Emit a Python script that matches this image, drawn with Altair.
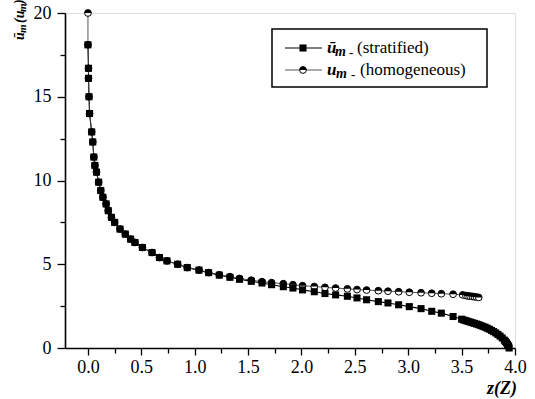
import altair as alt
import pandas as pd

# ---- data ----
z_early = [0.0, 0.005, 0.005, 0.01, 0.015, 0.035, 0.045, 0.055, 0.065, 0.08,
           0.10, 0.12, 0.14, 0.17, 0.19, 0.22, 0.25, 0.30, 0.35, 0.40, 0.44,
           0.51, 0.60, 0.67, 0.74, 0.84, 0.93, 1.04, 1.13]
u_early = [18.1, 16.7, 16.1, 15.0, 14.0, 12.9, 12.3, 11.4, 10.9, 10.5,
           9.9, 9.4, 9.0, 8.6, 8.2, 7.8, 7.5, 7.1, 6.8, 6.5, 6.3,
           6.0, 5.7, 5.4, 5.2, 5.0, 4.8, 4.65, 4.5]

z_strat_mid = [1.23, 1.33, 1.42, 1.53, 1.63, 1.72, 1.83, 1.92, 2.01, 2.12,
               2.22, 2.32, 2.43, 2.52, 2.61, 2.72, 2.81, 2.91, 3.01, 3.12,
               3.22, 3.31, 3.42]
u_strat_mid = [4.35, 4.22, 4.10, 3.98, 3.88, 3.78, 3.66, 3.58, 3.47, 3.36,
               3.25, 3.17, 3.09, 2.99, 2.88, 2.77, 2.69, 2.58, 2.47, 2.35,
               2.19, 2.08, 1.88]
z_strat_end = [3.50, 3.52, 3.54, 3.56, 3.58, 3.60, 3.62, 3.64, 3.66, 3.68,
               3.70, 3.72, 3.74, 3.76, 3.78, 3.80, 3.82, 3.84, 3.86, 3.88,
               3.90, 3.91, 3.92, 3.93, 3.94, 3.945]
u_strat_end = [1.72, 1.67, 1.63, 1.59, 1.55, 1.51, 1.47, 1.43, 1.39, 1.34,
               1.29, 1.24, 1.18, 1.12, 1.05, 0.98, 0.90, 0.81, 0.71, 0.60,
               0.47, 0.39, 0.31, 0.22, 0.12, 0.0]

z_homog_top = [0.0]
u_homog_top = [20.0]
z_homog_mid = [1.23, 1.33, 1.42, 1.53, 1.63, 1.72, 1.83, 1.92, 2.01, 2.12,
               2.22, 2.32, 2.43, 2.52, 2.61, 2.72, 2.81, 2.91, 3.01, 3.12,
               3.22, 3.31, 3.42, 3.51]
u_homog_mid = [4.37, 4.26, 4.15, 4.05, 3.96, 3.90, 3.84, 3.78, 3.72, 3.67,
               3.62, 3.58, 3.53, 3.49, 3.46, 3.42, 3.39, 3.36, 3.33, 3.30,
               3.27, 3.24, 3.21, 3.17]
z_homog_end = [3.54, 3.56, 3.58, 3.60, 3.62, 3.64, 3.66]
u_homog_end = [3.13, 3.11, 3.09, 3.08, 3.06, 3.04, 3.02]

x_ticks = [0.0, 0.25, 0.5, 0.75, 1.0, 1.25, 1.5, 1.75, 2.0, 2.25, 2.5, 2.75,
           3.0, 3.25, 3.5, 3.75, 4.0]
y_ticks = [0, 2.5, 5, 7.5, 10, 12.5, 15, 17.5, 20]

strat = pd.DataFrame({
    "z": z_early + z_strat_mid + z_strat_end,
    "u": u_early + u_strat_mid + u_strat_end,
})
strat["i"] = range(len(strat))
homog = pd.DataFrame({
    "z": z_homog_top + z_early + z_homog_mid + z_homog_end,
    "u": u_homog_top + u_early + u_homog_mid + u_homog_end,
})
homog["i"] = range(len(homog))

SERIF = "Liberation Serif"

xs = alt.X("z:Q", scale=alt.Scale(domain=[-0.215, 4.0], nice=False, zero=False),
           axis=alt.Axis(values=x_ticks, title=None, grid=False,
                         labelExpr="datum.value % 0.5 === 0 ? format(datum.value, '.1f') : ''",
                         tickSize={"condition": {"test": "datum.value % 0.5 === 0", "value": 7}, "value": 5},
                         labelFont=SERIF, labelFontSize=18, labelColor="black",
                         labelPadding=3, domainColor="black", domainWidth=1.6,
                         tickColor="black", tickWidth=1.3, labelFlush=False))
ys = alt.Y("u:Q", scale=alt.Scale(domain=[0, 20], nice=False),
           axis=alt.Axis(values=y_ticks, title=None, grid=False,
                         labelExpr="datum.value % 5 === 0 ? format(datum.value, 'd') : ''",
                         tickSize={"condition": {"test": "datum.value % 5 === 0", "value": 8}, "value": 5},
                         labelFont=SERIF, labelFontSize=18, labelColor="black",
                         labelPadding=6, domainColor="black", domainWidth=1.6,
                         tickColor="black", tickWidth=1.3))

HALF = "M -1 0 A 1 1 0 0 1 1 0 Z"
SQ = 50
CI = 46

strat_line = alt.Chart(strat).mark_line(color="black", strokeWidth=1.1).encode(x=xs, y=ys, order="i:Q")
strat_pts = alt.Chart(strat).mark_point(shape="square", filled=True, color="black", size=SQ, opacity=1).encode(x=xs, y=ys)
homog_line = alt.Chart(homog).mark_line(color="#444444", strokeWidth=0.9).encode(x=xs, y=ys, order="i:Q")
homog_pts = alt.Chart(homog).mark_point(shape="circle", filled=True, fill="white", stroke="black",
                                        strokeWidth=1, size=CI, opacity=1).encode(x=xs, y=ys)
homog_half = alt.Chart(homog).mark_point(shape=HALF, filled=True, color="black", size=CI, opacity=1).encode(x=xs, y=ys)

one = pd.DataFrame({"a": [0]})

def txt(s, x, y, size, weight=None, style=None, angle=0, align="left"):
    kw = dict(text=s, font=SERIF, fontSize=size, align=align, color="black")
    if weight:
        kw["fontWeight"] = weight
    if style:
        kw["fontStyle"] = style
    if angle:
        kw["angle"] = angle
    return alt.Chart(one).mark_text(**kw).encode(x=alt.value(x), y=alt.value(y))

# legend
box = alt.Chart(one).mark_rect(fill="white", stroke="black", strokeWidth=1.5).encode(
    x=alt.value(207), x2=alt.value(422), y=alt.value(16), y2=alt.value(74))
leg_l1 = alt.Chart(one).mark_rule(color="black", strokeWidth=1.1).encode(
    x=alt.value(220), x2=alt.value(257), y=alt.value(35))
leg_l2 = alt.Chart(one).mark_rule(color="#444444", strokeWidth=0.9).encode(
    x=alt.value(220), x2=alt.value(257), y=alt.value(57))
leg_p1 = alt.Chart(one).mark_point(shape="square", filled=True, color="black", size=SQ, opacity=1).encode(
    x=alt.value(238), y=alt.value(35))
leg_p2a = alt.Chart(one).mark_point(shape="circle", filled=True, fill="white", stroke="black",
                                    strokeWidth=1, size=CI, opacity=1).encode(x=alt.value(238), y=alt.value(57))
leg_p2b = alt.Chart(one).mark_point(shape=HALF, filled=True, color="black", size=CI, opacity=1).encode(
    x=alt.value(238), y=alt.value(57))

legend_texts = [
    txt("ū", 262, 35, 17, "bold", "italic"),
    txt("m", 270, 39, 14, "bold", "italic"),
    txt("-", 284, 40, 13, "bold"),
    txt("(stratified)", 292, 35, 17),
    txt("u", 262, 57, 17, "bold", "italic"),
    txt("m", 271, 61, 14, "bold", "italic"),
    txt("-", 286, 62, 13, "bold"),
    txt("(homogeneous)", 295, 57, 17),
]

ytitle = [
    txt("ū", -45, 27, 14, "bold", "italic", angle=270),
    txt("m", -42, 20, 11, "bold", "italic", angle=270),
    txt("(u", -45, 10, 14, "bold", "italic", angle=270),
    txt("m", -42, -1, 11, "bold", "italic", angle=270),
    txt(")", -45, -9, 14, "bold", "italic", angle=270),
]
xtitle = txt("z(Z)", 437, 376, 18, "bold", "italic", align="center")

chart = alt.layer(
    strat_line, homog_line, homog_pts, homog_half, strat_pts,
    box, leg_l1, leg_l2, leg_p1, leg_p2a, leg_p2b,
    *legend_texts, *ytitle, xtitle
).properties(
    width=450, height=335,
    autosize=alt.AutoSizeParams(type="none"),
    padding={"left": 65, "top": 13, "right": 20, "bottom": 51},
)

chart.save("out.html", embed_options={"renderer": "svg", "actions": False})
